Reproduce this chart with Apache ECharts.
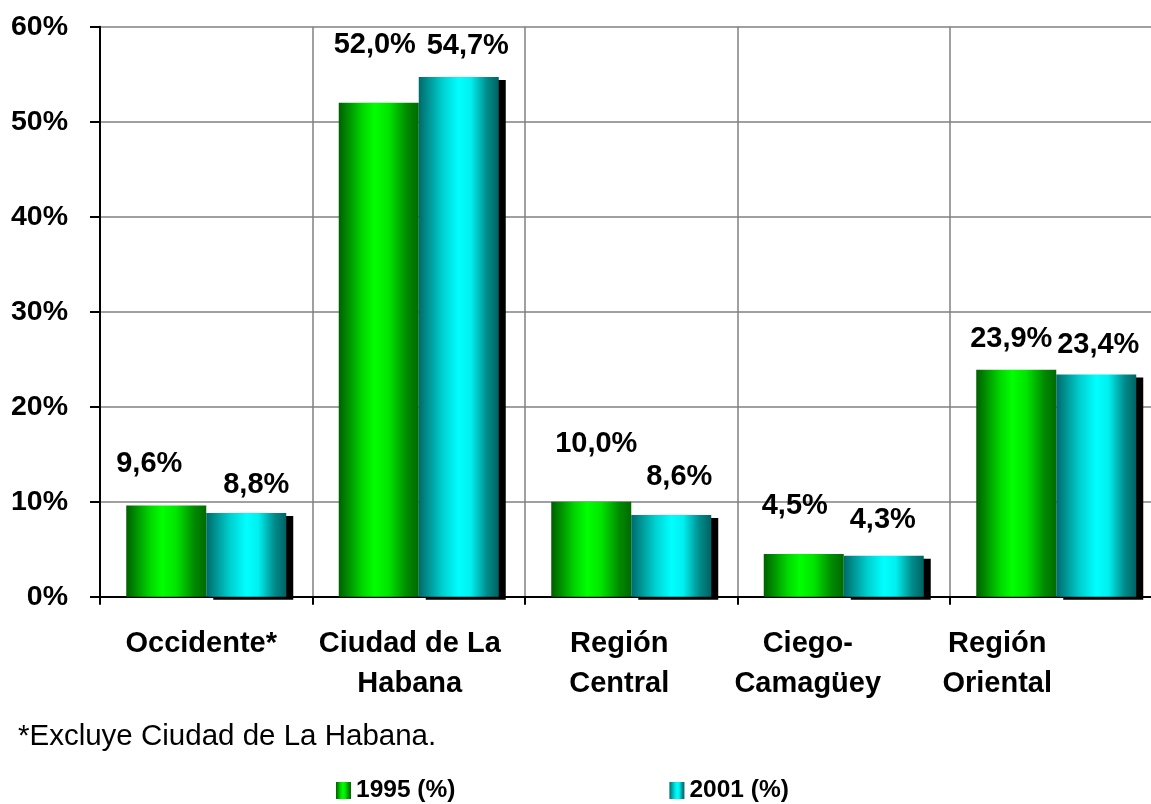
<!DOCTYPE html>
<html>
<head>
<meta charset="utf-8">
<title>Distribución por regiones 1995 - 2001</title>
<script src="https://cdn.jsdelivr.net/npm/echarts@6/dist/echarts.min.js"></script>
<style>
  html, body { margin: 0; padding: 0; background: #fff; }
  #chart { width: 1151px; height: 804px; }
</style>
</head>
<body>
<div id="chart"></div>
<script>
var categories  = ['Occidente*', 'Ciudad de La\nHabana', 'Región\nCentral', 'Ciego-\nCamagüey', 'Región\nOriental'];
var seriesNames = ['1995 (%)', '2001 (%)'];
var values1995  = [9.6, 52.0, 10.0, 4.5, 23.9];
var values2001  = [8.8, 54.7, 8.6, 4.3, 23.4];
var footnote    = '*Excluye Ciudad de La Habana.';

// hand placed labels in the original, nudged from the bar top
var labelShift1995 = [[-17, -27], [-4, -43], [5, -43], [-9, -33], [-5, -16]];
var labelShift2001 = [[10, -14], [9, -17], [8, -24], [-1, -21], [2, -15]];
// category labels sit a bit left of the category centre
var catShift = [10, 18, 24, 72, 118];

var FONT = '"Liberation Sans", Arial, sans-serif';

var chart = echarts.init(document.getElementById('chart'));

function pct(v) {
  return v.toFixed(1).replace('.', ',') + '%';
}

function barData(values, shifts) {
  return values.map(function(v, i) {
    return { value: v, label: { offset: shifts[i] } };
  });
}

var greenFill = new echarts.graphic.LinearGradient(0, 0, 1, 0, [
  { offset: 0,    color: '#005f00' },
  { offset: 0.3,  color: '#00d800' },
  { offset: 0.45, color: '#00ff00' },
  { offset: 0.62, color: '#00e600' },
  { offset: 0.85, color: '#008a00' },
  { offset: 1,    color: '#006a00' }
]);
var cyanFill = new echarts.graphic.LinearGradient(0, 0, 1, 0, [
  { offset: 0,    color: '#006a6a' },
  { offset: 0.3,  color: '#00d0d0' },
  { offset: 0.5,  color: '#00ffff' },
  { offset: 0.65, color: '#00f0f0' },
  { offset: 0.85, color: '#008c8c' },
  { offset: 1,    color: '#006262' }
]);

var rich = {};
catShift.forEach(function(p, i) {
  rich['c' + i] = {
    fontFamily: FONT, fontSize: 29, fontWeight: 'bold', color: '#000',
    lineHeight: 40, padding: [0, p, 0, 0]
  };
});

var labelStyle = {
  show: true,
  position: 'top',
  distance: 0,
  fontFamily: FONT,
  fontSize: 29,
  fontWeight: 'bold',
  color: '#000',
  formatter: function(p) { return pct(p.value); }
};

var option = {
  animation: false,
  backgroundColor: '#fff',
  textStyle: { fontFamily: FONT },
  title: {
    text: footnote,
    left: 13,
    top: 717,
    textStyle: { fontFamily: FONT, fontSize: 29.5, fontWeight: 'normal', color: '#000' }
  },
  legend: {
    data: seriesNames,
    left: 331,
    top: 773,
    itemWidth: 15,
    itemHeight: 17,
    itemGap: 214,
    icon: 'rect',
    itemStyle: { shadowColor: 'transparent', shadowOffsetX: 0, shadowOffsetY: 0 },
    textStyle: {
      fontFamily: FONT,
      fontSize: 24.5,
      fontWeight: 'bold',
      color: '#000'
    }
  },
  grid: {
    left: 100,
    right: -11.5,
    top: 26.7,
    bottom: 207.3,
    outerBoundsMode: 'none'
  },
  xAxis: {
    type: 'category',
    data: categories,
    axisLine: { lineStyle: { color: '#000', width: 2 } },
    axisTick: { show: true, length: 8, lineStyle: { color: '#000', width: 2 } },
    splitLine: { show: true, interval: 0, lineStyle: { color: '#808080', width: 1.5 } },
    axisLabel: {
      interval: 0,
      margin: 27,
      lineHeight: 40,
      fontSize: 29,
      fontWeight: 'bold',
      color: '#000',
      formatter: function(value, index) {
        return value.split('\n').map(function(s) {
          return '{c' + index + '|' + s + '}';
        }).join('\n');
      },
      rich: rich
    }
  },
  yAxis: {
    type: 'value',
    min: 0,
    max: 60,
    interval: 10,
    axisLine: { show: true, lineStyle: { color: '#000', width: 2 } },
    axisTick: { show: true, length: 10, lineStyle: { color: '#000', width: 2 } },
    splitLine: { show: true, lineStyle: { color: '#808080', width: 1.5 } },
    axisLabel: {
      margin: 32,
      fontFamily: FONT,
      fontSize: 28.5,
      fontWeight: 'bold',
      color: '#000',
      formatter: '{value}%'
    }
  },
  series: [
    {
      name: seriesNames[0],
      type: 'bar',
      barWidth: 80,
      barGap: '0%',
      itemStyle: { color: greenFill },
      label: labelStyle,
      data: barData(values1995, labelShift1995)
    },
    {
      name: seriesNames[1],
      type: 'bar',
      barWidth: 80,
      barGap: '0%',
      itemStyle: {
        color: cyanFill,
        shadowColor: '#000',
        shadowBlur: 0,
        shadowOffsetX: 7,
        shadowOffsetY: 3
      },
      label: labelStyle,
      data: barData(values2001, labelShift2001)
    }
  ]
};

chart.setOption(option);
</script>
</body>
</html>
